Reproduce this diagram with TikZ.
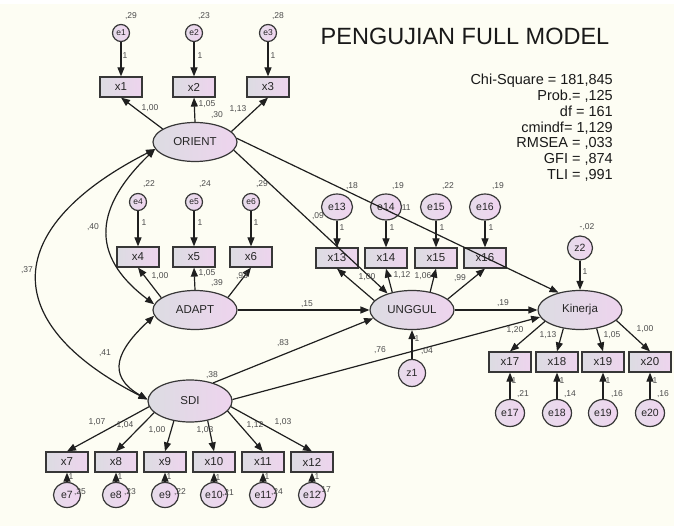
\documentclass[tikz,border=0pt]{standalone}
\usepackage{fontspec}
\setmainfont{Liberation Sans}
\usetikzlibrary{shapes.geometric,arrows.meta}
\definecolor{bgc}{RGB}{253,253,243}
\definecolor{fillL}{RGB}{220,220,226}
\definecolor{fillR}{RGB}{238,212,238}
\definecolor{errL}{RGB}{230,220,234}
\definecolor{errR}{RGB}{240,212,240}
\definecolor{lc}{RGB}{55,55,55}
\newcommand\fntnode{\fontsize{11.5}{13}\selectfont}
\newcommand\fnterr{\fontsize{10.5}{12}\selectfont}
\newcommand\fntsmallerr{\fontsize{8.5}{10}\selectfont}
\newcommand\fntcoef{\fontsize{8.5}{10}\selectfont}
\newcommand\fntstat{\fontsize{14.5}{16}\selectfont}
\newcommand\fnttitle{\fontsize{23.5}{26}\selectfont}
\tikzset{
  lat/.style={ellipse, draw=lc, line width=1.2pt, left color=fillL, right color=fillR,
    minimum width=84pt, minimum height=39pt, inner sep=0pt, font=\fntnode, text=black!85},
  obs/.style={rectangle, draw=lc, line width=1.2pt, left color=fillL, right color=fillR,
    minimum width=42pt, minimum height=20pt, inner sep=0pt, font=\fntnode, text=black!85},
  errs/.style={circle, draw=lc, line width=1.2pt, left color=errL, right color=errR,
    minimum size=17pt, inner sep=0pt, font=\fntsmallerr, text=black!85},
  errb/.style={ellipse, draw=lc, line width=1.2pt, left color=errL, right color=errR,
    minimum width=27pt, minimum height=25pt, inner sep=0pt, font=\fnterr, text=black!85},
  arr/.style={-{Triangle[length=9pt,width=7pt]}, line width=1.2pt, draw=black!88},
  cov/.style={{Triangle[length=9pt,width=7pt]}-{Triangle[length=9pt,width=7pt]}, line width=1.2pt, draw=black!88},
  coef/.style={font=\fntcoef, text=black!70, inner sep=0pt},
  stat/.style={font=\fntstat, text=black!90, inner sep=0pt},
}
\begin{document}
\begin{tikzpicture}[x=1pt,y=1pt]
\fill[bgc] (0,0) rectangle (674,-526);
\fill[white] (0,0) rectangle (674,-4);
\useasboundingbox (0,0) rectangle (674,-526);

% label partly hidden by e14
\node[coef] (L0) at (405,-208) {,11};

% ORIENT group
\node[lat] (ORIENT) at (195,-142) {ORIENT};
\node[obs] (x1) at (121,-87) {x1};
\node[obs] (x2) at (194,-87) {x2};
\node[obs] (x3) at (268,-87) {x3};
\node[errs] (e1) at (121,-33) {e1};
\node[errs] (e2) at (194,-33) {e2};
\node[errs] (e3) at (268,-33) {e3};

% ADAPT group
\node[lat] (ADAPT) at (195,-310) {ADAPT};
\node[obs] (x4) at (138,-257) {x4};
\node[obs] (x5) at (194,-257) {x5};
\node[obs] (x6) at (251,-257) {x6};
\node[errs] (e4) at (138,-202) {e4};
\node[errs] (e5) at (194,-202) {e5};
\node[errs] (e6) at (251,-202) {e6};

% SDI group
\node[lat, minimum height=42pt] (SDI) at (190,-401) {SDI};
\foreach \n/\px in {7/67,8/116,9/165,10/214,11/263,12/312}{
  \node[obs] (x\n) at (\px,-462) {x\n};
  \node[errb] (e\n) at (\px,-495) {e\n};
}

% UNGGUL group
\node[lat] (UNGGUL) at (412,-310) {UNGGUL};
\foreach \n/\px in {13/337,14/386,15/436,16/485}{
  \node[obs] (x\n) at (\px,-258) {x\n};
  \node[errb, minimum width=31pt, minimum height=26pt] (e\n) at (\px,-207) {e\n};
}
\node[errb, minimum size=27pt] (z1) at (412,-373) {z1};

% Kinerja group
\node[lat] (Kinerja) at (580,-310) {Kinerja};
\foreach \n/\px in {17/510,18/557,19/603,20/650}{
  \node[obs] (x\n) at (\px,-362) {x\n};
  \node[errb, minimum width=29pt, minimum height=27pt] (e\n) at (\px,-413) {e\n};
}
\node[errb, minimum width=25pt, minimum height=24pt] (z2) at (580,-248) {z2};

% error -> indicator
\foreach \n in {1,...,6,13,14,15,16}{ \draw[arr] (e\n) -- (x\n); }
\foreach \n in {7,...,12,17,18,19,20}{ \draw[arr] (e\n) -- (x\n); }
\draw[arr] (z1) -- (UNGGUL);
\draw[arr] (z2) -- (Kinerja);

% loadings
\draw[arr] (ORIENT.158) -- (x1.south);
\draw[arr] (ORIENT.north) -- (x2.south);
\draw[arr] (ORIENT.16) -- (x3.south);
\draw[arr] (ADAPT.160) -- (x4.south);
\draw[arr] (ADAPT.north) -- (x5.south);
\draw[arr] (ADAPT.21) -- (x6.south);
\draw[arr] (SDI.188) -- (x7.north);
\draw[arr] (SDI.198) -- (x8.north);
\draw[arr] (SDI.231) -- (x9.north);
\draw[arr] (SDI.312) -- (x10.north);
\draw[arr] (SDI.345) -- (x11.north);
\draw[arr] (SDI.352) -- (x12.north);
\draw[arr] (UNGGUL.166) -- (x13.south);
\draw[arr] (UNGGUL.138) -- (x14.south);
\draw[arr] (UNGGUL.45) -- (x15.south);
\draw[arr] (UNGGUL.17) -- (x16.south);
\draw[arr] (Kinerja.198) -- (x17.north);
\draw[arr] (Kinerja.228) -- (x18.north);
\draw[arr] (Kinerja.312) -- (x19.north);
\draw[arr] (Kinerja.344) -- (x20.north);

% structural paths
\draw[arr] (ORIENT.348) -- (UNGGUL.146);
\draw[arr] (ORIENT.5) -- (Kinerja.141);
\draw[arr] (ADAPT.east) -- (UNGGUL.west);
\draw[arr] (UNGGUL.east) -- (Kinerja.west);
\draw[arr] (SDI.38) -- (UNGGUL.192);
\draw[arr] (SDI.2) -- (Kinerja.190);

% covariances
\draw[cov] (ORIENT.190) to[out=224,in=143,looseness=1.36] (ADAPT.172);
\draw[cov] (ORIENT.190) to[out=207,in=153,looseness=1.74] (SDI.178);
\draw[cov] (ADAPT.188) to[out=223,in=150,looseness=1.5] (SDI.178);

% coefficient labels
\foreach \px/\py/\tx [count=\i] in {
  131/16/{,29}, 204/16/{,23}, 278/16/{,28},
  125/56/1, 200/56/1, 273/56/1,
  150/108/{1,00}, 207/104/{1,05}, 217/115/{,30}, 238/109/{1,13},
  149/184/{,22}, 205/184/{,24}, 262/184/{,29},
  144/223/1, 200/223/1, 256/223/1,
  160/276/{1,00}, 207/273/{1,05}, 217/283/{,39}, 242/276/{,93},
  93/227/{,40}, 27/270/{,37}, 105/353/{,41},
  307/304/{,15}, 318/216/{,09},
  352/186/{,18}, 398/186/{,19}, 448/186/{,22}, 498/186/{,19},
  342/228/1, 392/228/1, 442/228/1, 491/228/1,
  367/277/{1,00}, 402/275/{1,12}, 423/276/{1,06}, 460/278/{,99},
  503/303/{,19}, 587/227/{-,02}, 585/272/1, 417/339/1, 380/350/{,76}, 427/351/{,04},
  283/343/{,83}, 212/375/{,38},
  515/330/{1,20}, 548/335/{1,13}, 612/335/{1,05}, 645/329/{1,00},
  514/381/1, 562/381/1, 608/381/1, 655/381/1,
  523/394/{,21}, 570/394/{,14}, 617/394/{,16}, 663/394/{,16},
  97/422/{1,07}, 125/425/{1,04}, 157/430/{1,00}, 205/430/{1,03}, 255/425/{1,12}, 283/422/{1,03},
  71/477/1, 120/477/1, 169/477/1, 218/478/1, 267/477/1, 317/477/1,
  80/492/{,25}, 130/492/{,23}, 180/492/{,22}, 228/493/{,21}, 277/492/{,24}, 325/490/{,17}}{
  \node[coef] (L\i) at (\px,-\py) {\tx};
}

% title and fit statistics
\node[font=\fnttitle, text=black!90, inner sep=0pt, anchor=base] (title) at (465,-45) {PENGUJIAN FULL MODEL};
\foreach \tx [count=\i] in {{Chi-Square = 181,845}, {Prob.= ,125}, {df = 161}, {cmindf= 1,129},
  {RMSEA = ,033}, {GFI = ,874}, {TLI = ,991}}{
  \node[stat, anchor=base east] (s\i) at (613,{-85-15.7*(\i-1)}) {\tx};
}
\end{tikzpicture}
\end{document}
